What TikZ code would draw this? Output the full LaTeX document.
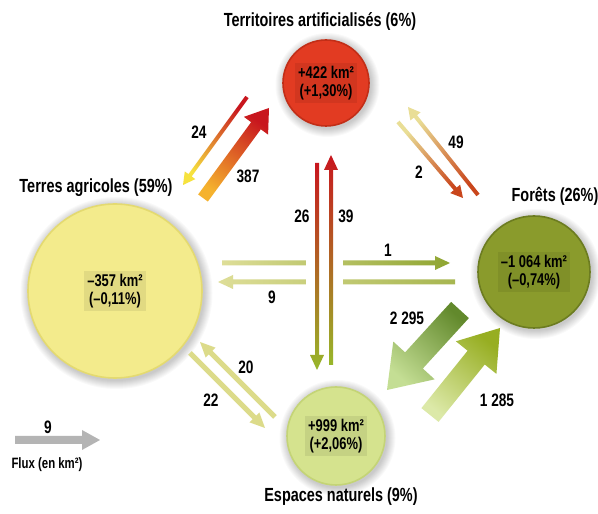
\documentclass[tikz,border=0pt]{standalone}
\usepackage{fontspec}
\setmainfont{Liberation Sans}[FakeStretch=0.76]
\usetikzlibrary{calc}
\definecolor{terrF}{HTML}{E23B22}
\definecolor{terrD}{HTML}{C22E17}
\definecolor{agriF}{HTML}{F3EB8C}
\definecolor{agriD}{HTML}{E4DA70}
\definecolor{forF}{HTML}{8A9B2C}
\definecolor{forD}{HTML}{6C7C20}
\definecolor{espF}{HTML}{D5E38E}
\definecolor{espD}{HTML}{C4D476}
\definecolor{cRed}{HTML}{C8161E}
\definecolor{cOrangeRed}{HTML}{C9461C}
\definecolor{cYellow}{HTML}{F6E23E}
\definecolor{cOrange}{HTML}{F5B22E}
\definecolor{cPale}{HTML}{E9DE96}
\definecolor{cPaleG}{HTML}{DEDE98}
\definecolor{cOlive}{HTML}{8FA531}
\definecolor{cGreen}{HTML}{98B72A}
\definecolor{cDkGreen}{HTML}{62892C}
\definecolor{cLtGreen}{HTML}{C4DE94}
\definecolor{cLtGreen2}{HTML}{DCE9A8}
\definecolor{cOlive2}{HTML}{97AE22}
\definecolor{cFlux}{HTML}{DCDB8A}
\definecolor{cGrey}{HTML}{B4B4B4}
\tikzset{
  zone/.style={circle, inner sep=0pt, line width=1.6pt},
  ztitle/.style={font=\bfseries\fontsize{19}{22}\selectfont, inner sep=0pt},
  zval/.style={font=\bfseries\fontsize{17}{18}\selectfont, align=center, fill=black, fill opacity=0.07, text opacity=1, inner sep=3pt},
  flab/.style={font=\bfseries\fontsize{18}{20}\selectfont, inner sep=0pt},
}
% #1 prefix, #2 tail, #3 head, #4 shaft half width, #5 head half width, #6 head length, #7 tail colour, #8 head colour
\newcommand\fatarrow[8]{%
  \coordinate (#1b) at ($(#3)!#6!(#2)$);
  \pgfmathanglebetweenpoints{\pgfpointanchor{#2}{center}}{\pgfpointanchor{#3}{center}}%
  \pgfmathsetmacro\shang{\pgfmathresult-90}%
  \shade[bottom color=#7, top color=#8, shading angle=\shang]
    ($(#2)!#4!90:(#3)$) -- ($(#1b)!#4!90:(#3)$) -- ($(#1b)!#5!90:(#3)$) -- (#3)
    -- ($(#1b)!#5!-90:(#3)$) -- ($(#1b)!#4!-90:(#3)$) -- ($(#2)!#4!-90:(#3)$) -- cycle;
}
\newcommand\zshadow[2]{%
  \foreach \k in {1,...,9}{\fill[black, opacity=0.022] ($(#1.center)+(1.5pt,-2pt)$) circle[radius={#2+\k*1pt}];}
}
\begin{document}
\begin{tikzpicture}[x=1pt,y=1pt]
\useasboundingbox (0,0) rectangle (598,514);
\fill[white] (0,0) rectangle (598,514);

% circles
\coordinate (cterr) at (326,431);
\coordinate (cagri) at (115,223);
\coordinate (cfor) at (534,242);
\coordinate (cesp) at (336,78);
\zshadow{cterr}{43pt}
\zshadow{cagri}{87pt}
\zshadow{cfor}{56pt}
\zshadow{cesp}{49pt}
\node[zone, minimum size=86pt, fill=terrF, draw=terrD] (terr) at (cterr) {};
\node[zone, minimum size=174pt, fill=agriF, draw=agriD] (agri) at (cagri) {};
\node[zone, minimum size=112pt, fill=forF, draw=forD] (for) at (cfor) {};
\node[zone, minimum size=98pt, fill=espF, draw=espD] (esp) at (cesp) {};

\node[zval] (vterr) at (terr.center) {+422 km²\\(+1,30\%)};
\node[zval] (vagri) at (agri.center) {–357 km²\\(–0,11\%)};
\node[zval] (vfor) at (for.center) {–1 064 km²\\(–0,74\%)};
\node[zval] (vesp) at (esp.center) {+999 km²\\(+2,06\%)};

\node[ztitle] (tterr) at (320,492) {Territoires artificialisés (6\%)};
\node[ztitle] (tagri) at (96,326) {Terres agricoles (59\%)};
\node[ztitle] (tfor) at (555,318) {Forêts (26\%)};
\node[ztitle] (tesp) at (341,17) {Espaces naturels (9\%)};

% arrow end points
\coordinate (t387) at (203,316); \coordinate (h387) at (269,406);
\coordinate (t24) at (247,417);  \coordinate (h24) at (183,329);
\coordinate (t2) at (398,392);   \coordinate (h2) at (463,316);
\coordinate (t49) at (478,319);  \coordinate (h49) at (408,407);
\coordinate (t26) at (317,351);  \coordinate (h26) at (317,144);
\coordinate (t39) at (331,149);  \coordinate (h39) at (331,359);
\coordinate (t1) at (222,251);   \coordinate (h1) at (450,251);
\coordinate (t9) at (455,232);   \coordinate (h9) at (218,232);
\coordinate (t2295) at (460,204); \coordinate (h2295) at (387,124);
\coordinate (t1285) at (430,99);  \coordinate (h1285) at (500,186);
\coordinate (t22) at (190,161);  \coordinate (h22) at (265,86);
\coordinate (t20) at (275,97);   \coordinate (h20) at (200,172);
\coordinate (tleg) at (15,74);   \coordinate (hleg) at (100,74);

\fatarrow{a387}{t387}{h387}{6pt}{15pt}{22pt}{cOrange}{cRed}
\fatarrow{a24}{t24}{h24}{2pt}{6.5pt}{12pt}{cRed}{cYellow}
\fatarrow{a2}{t2}{h2}{2pt}{6.5pt}{12pt}{cPale}{cOrangeRed}
\fatarrow{a49}{t49}{h49}{2pt}{6.5pt}{12pt}{cOrangeRed}{cPale}

\fatarrow{a1}{t1}{h1}{2.5pt}{7pt}{15pt}{cPaleG}{cOlive}
\fatarrow{a9}{t9}{h9}{2.5pt}{7pt}{15pt}{cOlive!70!cPaleG}{cPaleG}
\fill[white] (306,224) rectangle (343,259);

\fatarrow{a26}{t26}{h26}{2pt}{7pt}{15pt}{cRed}{cGreen}
\fatarrow{a39}{t39}{h39}{2pt}{7pt}{15pt}{cGreen}{cRed}

\fatarrow{a2295}{t2295}{h2295}{12pt}{28pt}{40pt}{cDkGreen}{cLtGreen}
\fatarrow{a1285}{t1285}{h1285}{11pt}{26pt}{38pt}{cLtGreen2}{cOlive2}

\fatarrow{a22}{t22}{h22}{2.5pt}{7pt}{15pt}{cFlux}{cFlux}
\fatarrow{a20}{t20}{h20}{2.5pt}{7pt}{15pt}{cFlux}{cFlux}

\fatarrow{aleg}{tleg}{hleg}{4pt}{10pt}{18pt}{cGrey}{cGrey}

% flux labels
\node[flab] (l24) at (199,382) {24};
\node[flab] (l387) at (248,338) {387};
\node[flab] (l49) at (456,372) {49};
\node[flab] (l2) at (419,342) {2};
\node[flab] (l26) at (302,298) {26};
\node[flab] (l39) at (346,298) {39};
\node[flab] (l1) at (388,264) {1};
\node[flab] (l9) at (272,217) {9};
\node[flab] (l2295) at (407,196) {2 295};
\node[flab] (l1285) at (497,114) {1 285};
\node[flab] (l20) at (246,147) {20};
\node[flab] (l22) at (211,114) {22};
\node[flab] (lleg) at (48,87) {9};
\node[flab, font=\bfseries\fontsize{15}{17}\selectfont] (legend) at (47,49) {Flux (en km²)};
\end{tikzpicture}
\end{document}
